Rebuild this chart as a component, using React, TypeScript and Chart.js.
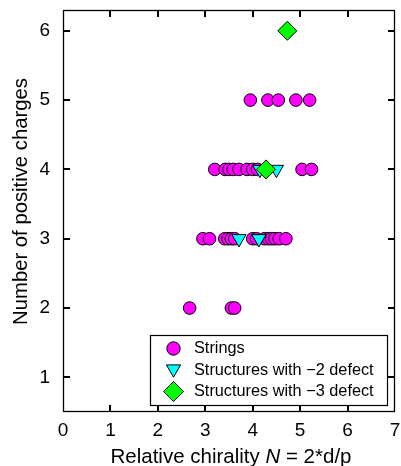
import React, { useEffect, useRef } from 'react';
import { Chart, registerables } from 'chart.js';

Chart.register(...registerables);

// ---- data ----
const stringsN = [
  2.67, 3.55, 3.62,
  2.95, 3.09, 3.41, 3.48, 3.55, 3.62, 4.0, 4.08, 4.25, 4.33, 4.4, 4.47, 4.56, 4.7,
  3.2, 3.42, 3.5, 3.59, 3.71, 3.88, 4.0, 4.1, 5.04, 5.24,
  3.95, 4.32, 4.54, 4.91, 5.2,
];
const stringsCharges = [
  2, 2, 2,
  3, 3, 3, 3, 3, 3, 3, 3, 3, 3, 3, 3, 3, 3,
  4, 4, 4, 4, 4, 4, 4, 4, 4, 4,
  5, 5, 5, 5, 5,
];
const minus2N = [3.71, 4.13, 4.15, 4.5];
const minus2Charges = [3, 3, 4, 4];
const minus3N = [4.28, 4.73];
const minus3Charges = [4, 6];

const seriesLabels = ['Strings', 'Structures with \u22122 defect', 'Structures with \u22123 defect'];
const xTickValues = [0, 1, 2, 3, 4, 5, 6, 7];
const yTickValues = [1, 2, 3, 4, 5, 6];
const xRange = [0, 7];
const yRange = [0.5, 6.3];

const FONT = '"Liberation Sans", Arial, Helvetica, sans-serif';

const toPts = (xs: number[], ys: number[]) => xs.map((x, i) => ({ x, y: ys[i] }));

function drawMarker(ctx: CanvasRenderingContext2D, style: string, cx: number, cy: number, r: number, fill: string) {
  ctx.beginPath();
  if (style === 'circle') {
    ctx.arc(cx, cy, r, 0, Math.PI * 2);
  } else if (style === 'triangle') {
    for (let k = 0; k < 3; k++) {
      const a = Math.PI / 2 + (k * 2 * Math.PI) / 3;
      const px = cx + Math.cos(a) * r;
      const py = cy + Math.sin(a) * r;
      if (k === 0) ctx.moveTo(px, py);
      else ctx.lineTo(px, py);
    }
    ctx.closePath();
  } else {
    ctx.moveTo(cx, cy - r);
    ctx.lineTo(cx + r, cy);
    ctx.lineTo(cx, cy + r);
    ctx.lineTo(cx - r, cy);
    ctx.closePath();
  }
  ctx.fillStyle = fill;
  ctx.fill();
  ctx.strokeStyle = '#000';
  ctx.lineWidth = 1;
  ctx.stroke();
}

const framePlugin = {
  id: 'frameTicks',
  afterDraw(chart: any) {
    const ctx = chart.ctx as CanvasRenderingContext2D;
    const a = chart.chartArea;
    const xs = chart.scales['x'];
    const ys = chart.scales['y'];
    ctx.save();
    const L = Math.round(a.left);
    const R = Math.round(a.right);
    const T = Math.round(a.top);
    const B = Math.round(a.bottom);
    const xPix = (v: number) => {
      const p = xs ? Number(xs.getPixelForValue(v)) : NaN;
      return isFinite(p) ? p : L + ((v - xRange[0]) / (xRange[1] - xRange[0])) * (R - L);
    };
    const yPix = (v: number) => {
      const p = ys ? Number(ys.getPixelForValue(v)) : NaN;
      return isFinite(p) ? p : B - ((v - yRange[0]) / (yRange[1] - yRange[0])) * (B - T);
    };
    // frame
    ctx.strokeStyle = '#000';
    ctx.lineWidth = 1.3;
    ctx.strokeRect(L + 0.5, T + 0.5, R - L - 1, B - T - 1);
    // inner ticks as filled bars
    const tl = 7;
    ctx.fillStyle = '#000';
    for (let i = 0; i < xTickValues.length; i++) {
      const v = xTickValues[i];
      if (v <= xRange[0] || v >= xRange[1]) continue;
      const px = Math.round(xPix(v));
      ctx.fillRect(px - 1, B - tl, 2, tl);
      ctx.fillRect(px - 1, T, 2, tl);
    }
    for (let i = 0; i < yTickValues.length; i++) {
      const py = Math.round(yPix(yTickValues[i]));
      ctx.fillRect(L, py - 1, tl, 2);
      ctx.fillRect(R - tl, py - 1, tl, 2);
    }

    ctx.fillStyle = '#000';
    // y title
    ctx.font = `20.3px ${FONT}`;
    ctx.save();
    ctx.translate(27, 201.5);
    ctx.rotate(-Math.PI / 2);
    ctx.textAlign = 'center';
    ctx.textBaseline = 'alphabetic';
    ctx.fillText('Number of positive charges', 0, 0);
    ctx.restore();
    // x title with italic N
    const parts = [
      { t: 'Relative chirality ', f: `20.5px ${FONT}` },
      { t: 'N', f: `italic 20.5px ${FONT}` },
      { t: ' = 2*d/p', f: `20.5px ${FONT}` },
    ];
    let total = 0;
    parts.forEach((p) => {
      ctx.font = p.f;
      total += ctx.measureText(p.t).width;
    });
    let x = (a.left + a.right) / 2 - total / 2 + 2;
    ctx.textAlign = 'left';
    ctx.textBaseline = 'alphabetic';
    parts.forEach((p) => {
      ctx.font = p.f;
      ctx.fillText(p.t, x, 462.5);
      x += ctx.measureText(p.t).width;
    });
    // legend
    const lr = R - 7.5;
    const lb = B - 6.5;
    const ll = 150.5;
    const lt = 335.5;
    ctx.fillStyle = '#fff';
    ctx.fillRect(ll, lt, lr - ll, lb - lt);
    ctx.strokeStyle = '#000';
    ctx.lineWidth = 1.2;
    ctx.strokeRect(ll, lt, lr - ll, lb - lt);
    const ds = chart.data.datasets;
    const rows = [348.5, 370, 391.5];
    ds.forEach((d: any, i: number) => {
      const st = d.pointStyle === 'rectRot' ? 'diamond' : d.pointStyle;
      const r = st === 'circle' ? 6.7 : st === 'triangle' ? 8.2 : 10;
      drawMarker(ctx, st, 173.5, rows[i] + (st === 'triangle' ? -1 : 0), r, d.backgroundColor);
      ctx.fillStyle = '#000';
      ctx.font = `16.3px ${FONT}`;
      ctx.textAlign = 'left';
      ctx.textBaseline = 'middle';
      ctx.fillText(d.label, 194, rows[i] + 0.5);
    });
    ctx.restore();
  },
};

export default function App() {
  const ref = useRef<HTMLCanvasElement | null>(null);
  useEffect(() => {
    if (!ref.current) return;
    const chart = new Chart(ref.current, {
      type: 'scatter',
      data: {
        datasets: [
          {
            label: seriesLabels[0],
            data: toPts(stringsN, stringsCharges),
            pointStyle: 'circle',
            pointRadius: 6.3,
            backgroundColor: '#ff00ff',
            borderColor: '#000',
            borderWidth: 1,
            order: 3,
          },
          {
            label: seriesLabels[1],
            data: toPts(minus2N, minus2Charges),
            pointStyle: 'triangle',
            rotation: 180,
            pointRadius: 8.2,
            backgroundColor: '#00ffff',
            borderColor: '#000',
            borderWidth: 1,
            order: 2,
          },
          {
            label: seriesLabels[2],
            data: toPts(minus3N, minus3Charges),
            pointStyle: 'rectRot',
            pointRadius: 9.5,
            backgroundColor: '#00ff00',
            borderColor: '#000',
            borderWidth: 1,
            order: 1,
          },
        ] as any,
      },
      options: {
        animation: false,
        responsive: false,
        maintainAspectRatio: false,
        layout: { autoPadding: false, padding: { top: 10, right: 6, left: 0, bottom: 0 } },
        plugins: { legend: { display: false }, tooltip: { enabled: false } },
        scales: {
          x: {
            type: 'linear',
            min: xRange[0],
            max: xRange[1],
            afterBuildTicks: (s: any) => {
              s.ticks = xTickValues.map((v) => ({ value: v }));
            },
            afterFit: (s: any) => {
              s.height = 54;
              s.paddingLeft = 0;
              s.paddingRight = 0;
              s.paddingTop = 0;
              s.paddingBottom = 0;
            },
            ticks: { color: '#000', font: { family: FONT, size: 19 }, padding: 7, maxRotation: 0, autoSkip: false },
            grid: { display: false, drawTicks: false },
            border: { display: false },
            title: { display: false },
          },
          y: {
            type: 'linear',
            min: yRange[0],
            max: yRange[1],
            afterBuildTicks: (s: any) => {
              s.ticks = yTickValues.map((v) => ({ value: v }));
            },
            afterFit: (s: any) => {
              s.width = 63;
              s.paddingLeft = 0;
              s.paddingRight = 0;
              s.paddingTop = 0;
              s.paddingBottom = 0;
            },
            ticks: { color: '#000', font: { family: FONT, size: 19 }, padding: 13, autoSkip: false },
            grid: { display: false, drawTicks: false },
            border: { display: false },
            title: { display: false },
          },
        },
      } as any,
      plugins: [framePlugin],
    });
    return () => chart.destroy();
  }, []);
  return (
    <div style={{ position: 'absolute', left: 0, top: 0, width: 401, height: 466, background: '#fff' }}>
      <canvas ref={ref} width={401} height={466} style={{ display: 'block', width: 401, height: 466 }} />
    </div>
  );
}
